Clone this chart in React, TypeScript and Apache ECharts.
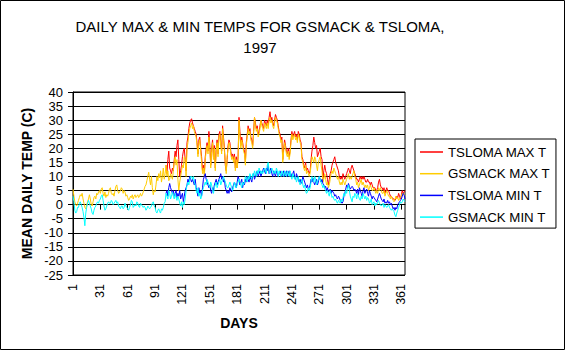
import React, { useEffect, useRef } from "react";
import * as echarts from "echarts";

const FONT = '"Liberation Sans", Arial, sans-serif';

const CHART_TITLE_LINE1 = "DAILY MAX & MIN TEMPS FOR GSMACK & TSLOMA,";
const CHART_TITLE_LINE2 = "1997";
const Y_TITLE = "MEAN DAILY TEMP (C)";
const X_TITLE = "DAYS";

const SERIES_NAMES = ["TSLOMA MAX T", "GSMACK MAX T", "TSLOMA MIN T", "GSMACK MIN T"];
const SERIES_COLORS = ["#ff0000", "#ffcc00", "#0000ff", "#00ffff"];

const DAY_COUNT = 365;
const DAYS = Array.from({ length: DAY_COUNT }, (_, i) => String(i + 1));

// TSLOMA records begin on this day
const TSLOMA_START_DAY = 103;

const Y_MIN = -25;
const Y_MAX = 40;
const Y_STEP = 5;

// GSMACK daily maximum, days 1..365
const GSMACK_MAX = [
  5.5, 3, 1, 0, -0.5, 0.5, 1.5, 2.5, 3.5, 3,
  4, 2, 0.5, -1, -1.5, 0, 1, 2, 3.5, 2,
  0, -0.5, 1, 2.5, 3, 2, 4, 3.5, 4.5, 5,
  4, 5.5, 6, 4, 3, 4.5, 2.5, 3.5, 3, 4,
  5.5, 6, 4, 3.5, 4, 3, 5, 6.5, 7, 5,
  4, 4.5, 5, 6, 5.5, 4, 5, 4.5, 3, 3.5,
  2.5, 1.5, 2, 3, 2.5, 3.5, 2, 3, 3.5, 2.5,
  3, 3.5, 2.5, 3, 4, 3, 3.5, 4.5, 5.5, 6.5,
  7, 8.5, 10, 11.5, 9, 7, 10, 6, 3.5, 5,
  4.5, 7, 10, 8.5, 11, 9.5, 12, 8, 10, 13,
  9, 11, 14, 10, 12, 8.5, 9, 11, 10, 9,
  12, 15, 17, 14, 16, 9, 5, 8, 10, 12,
  14, 13, 17, 16, 10, 20, 22, 25, 27, 28,
  29, 27, 28, 26, 25, 24, 21, 17, 22, 23,
  19, 15, 11, 13, 10, 16, 19, 21, 18, 24,
  20, 13, 19, 22, 16, 20, 12, 19, 22, 17,
  24, 25, 21, 18, 27, 23, 19, 15, 11, 17,
  20, 22, 21, 18, 16, 17, 15, 17, 12, 16,
  13, 16, 30, 24, 20, 23, 21, 19, 18, 14,
  21, 24, 27, 25, 26, 23, 22, 20, 25, 31,
  28, 26, 27, 24, 25, 27, 30, 28, 27, 26,
  29, 28, 27, 29, 27, 30, 31, 29, 30, 28,
  27, 29, 31, 30, 29, 27, 25, 24, 22, 23,
  15, 19, 22, 20, 18, 17, 19, 16, 18, 22,
  25, 23, 24, 25, 23, 24, 22, 25, 24, 22,
  21, 16, 15, 13, 12, 14, 11, 12, 11, 10,
  11, 14, 17, 16, 15, 17, 16, 14, 12, 15,
  16, 17, 14, 12, 8, 9, 11, 9, 7, 8,
  6, 7, 9, 11, 12, 11, 13, 12, 11, 10,
  9, 10, 8, 7, 8, 7, 9, 8, 7, 8,
  9, 10, 11, 9, 10, 9, 10, 11, 12, 10,
  9, 7, 8, 6, 7, 8, 9, 7, 8, 7,
  6, 7, 6, 7, 5, 6, 7, 6, 5, 5,
  6, 5, 4, 5, 4, 6, 5, 6, 5, 4,
  4, 5, 3, 4, 5, 4, 3, 3, 2, 3,
  2, 1.5, 1, 2, 3, 2, 2.5, 1.5, 2, 2.5,
  3, 4, 3.5, 4, 3,
];

// GSMACK daily minimum, days 1..365
const GSMACK_MIN = [
  3, 1, -2, -3, -2.5, -1, -1, 0.5, 1, 0,
  -1, -2.5, -4.5, -7.5, -3, -1, 0.5, 1.5, 0.5, -0.5,
  -1.5, -3, -3.5, -2, -1, -0.5, 0.5, 1, 0.5, 1.5,
  2, 3, 3.5, 1.5, -0.5, -2, -1.5, -0.5, 0.5, 1,
  0.5, 0.5, 1.5, 1, 0, 0.5, 1, 1.5, 0.5, 1,
  -0.5, -1, -1.5, -0.5, -0.5, -1.5, -1, 0.5, -0.5, -1,
  -1.5, -2, -1, 0, 1.5, 1, -1, -0.5, 0, -0.5,
  1, 0.5, -0.5, -1, 0.5, 0, -0.5, -1, -0.5, -1,
  -2, -1.5, -0.5, -1, -1.5, -1, -0.5, 0.5, 1, -0.5,
  -1, -2.5, -3, -2, -1.5, -2.5, -3, -1.5, -2, -1,
  0.5, 1, 4, 3, 2, 5, 4, 2, 3, 4.5,
  3, 2, 4, 2.5, 1.5, 3, 2, 0.5, -0.5, 1,
  -1, 1, 0, 2, 5, 7, 8, 7, 9, 10,
  10, 9, 10, 8, 7, 5, 4, 6, 3, 4,
  2, 3, 5, 6, 7, 8, 7, 9, 8, 7,
  6, 8, 7, 5, 4, 6, 7, 8, 6, 7,
  8, 9, 7, 8, 9, 10, 9, 8, 7, 6,
  6, 7, 8, 7, 6, 5, 6, 8, 7, 6,
  7, 8, 9, 8, 7, 6, 8, 7, 8, 10,
  9, 8, 10, 9, 11, 10, 9, 11, 10, 12,
  11, 10, 12, 11, 13, 12, 11, 12, 11, 12,
  13, 12, 11, 14, 15, 12, 11, 12, 13, 12,
  11, 12, 11, 13, 12, 10, 12, 11, 10, 12,
  11, 10, 12, 11, 10, 12, 11, 10, 12, 10,
  9, 11, 10, 9, 10, 8, 9, 10, 8, 7,
  8, 9, 7, 6, 7, 5, 4, 4.5, 6, 5,
  6, 8, 10, 9, 8, 10, 9, 7, 8, 9,
  10, 9, 8, 7, 6, 7, 5.5, 5, 4, 5,
  4, 3, 5, 4, 2.5, 3, 2, 1.5, 2, 1,
  0.5, 1.5, 1, 0.5, 2, 1, 2.5, 4, 3, 5,
  4, 6, 7, 5, 3, 2, 1, 3, 2.5, 4,
  3.5, 2, 4, 3, 2, 1.5, 3, 2, 4, 3,
  2, 3, 1.5, 2.5, 2, 0.5, 1, 2, 0, 0.5,
  1, -0.5, 0.5, 0, 1, 1.5, 0.5, 0, -0.5, 0,
  0.5, -1, 0, -0.5, -1, -0.5, 0, -1, -1.5, -2,
  -1.5, -2, -2.5, -3.7, -4.3, -3, -2, -1, 0, 1,
  0.5, 1, 2, 1.5, 1,
];

// TSLOMA daily maximum, days 103..365
const TSLOMA_MAX = [
  14, 11, 16, 19, 13, 12, 11, 13,
  12, 16, 19, 17, 21, 23, 16, 10, 12, 14,
  17, 19, 20, 16, 12, 22, 24, 27, 29, 30,
  30.5, 29, 28, 27, 26, 25, 22, 18, 23, 24,
  20, 17, 12, 14, 11, 17, 20, 22, 19, 26,
  21, 14, 20, 23, 17, 21, 13, 20, 23, 18,
  25, 26, 22, 19, 28, 24, 20, 14, 12, 16,
  21, 23, 22, 19, 17, 18, 16, 18, 13, 17,
  13, 17, 31, 26, 21, 24, 22, 20, 19, 15,
  22, 25, 28, 26, 27, 24, 23, 21, 26, 31,
  29, 27, 28, 25, 26, 28, 30, 29, 28, 27,
  30, 29, 28, 30, 28, 31, 33, 30, 31, 29,
  28, 30, 32, 31, 30, 28, 26, 25, 23, 24,
  16, 20, 23, 21, 19, 18, 20, 17, 19, 23,
  26, 24, 25, 26, 24, 25, 23, 26, 25, 23,
  22, 17, 16, 14, 13, 15, 12, 13, 12, 11,
  12, 16, 19, 21, 24, 22, 20, 21, 17, 18,
  19, 20, 17, 16, 9, 12, 14, 12, 11, 9,
  7, 9, 11, 12, 14, 15, 16, 17, 15, 14,
  13, 12, 10, 9, 10, 9, 11, 10, 9, 10,
  11, 12, 13, 12, 11, 13, 14, 13, 12, 11,
  10, 9, 9, 8, 9, 10, 9, 10, 9, 10,
  9, 8, 8, 9, 8, 8, 7, 8, 7, 6,
  6, 6, 5, 5, 6, 8, 9, 7, 6, 6,
  5, 6, 4, 5, 6, 5, 5, 4, 3, 3,
  2.5, 2, 2, 1.5, 2, 3, 2.5, 4, 3, 2,
  3.5, 5, 4, 4.5, 5,
];

// TSLOMA daily minimum, days 103..365
const TSLOMA_MIN = [
  4, 5, 3, 6, 7.5, 6, 5, 4,
  5, 3, 4, 5, 2.5, 4, 3, 5, 2, 3,
  4, 1, 3, 5, 6, 7, 9, 8, 10, 9,
  8, 9, 8, 7, 9, 6, 5, 3, 6, 4,
  5, 3, 6, 9, 10, 11, 9, 8, 7, 6,
  7, 5, 4, 6, 5, 7, 8, 9, 7, 8,
  9, 10, 11, 9, 10, 8, 9, 6, 5, 4,
  5, 4, 6, 5, 4.5, 6, 7, 8, 7, 6,
  8, 10, 9, 7, 8, 9, 6, 8, 7, 9,
  8, 10, 9, 8, 10, 9, 8, 10, 11, 9,
  10, 11, 12, 10, 11, 12, 10, 11, 12, 13,
  12, 11, 13, 12, 14, 11, 12, 13, 11, 10,
  12, 11, 10, 12, 11, 10, 11, 12, 11, 10,
  11, 12, 10, 11, 12, 10, 11, 12, 10, 11,
  10, 11, 12, 10, 9, 11, 10, 9, 8, 9,
  7.5, 8, 10, 9, 8, 7, 6, 7, 5.5, 6,
  7, 9, 8, 9.5, 8, 7, 8, 9, 7, 8,
  10, 9, 8, 9, 7.5, 7, 6, 6.5, 5, 6,
  4.5, 5, 5.5, 4, 5, 4.5, 4, 3, 3.5, 2.5,
  2, 3, 2.5, 1.5, 1, 0.5, 1, 3, 4, 5.5,
  7, 6, 7.5, 6.5, 5.5, 6, 6.5, 6, 5, 5.5,
  5, 4, 5.5, 3.5, 6, 5, 4, 3, 5, 6,
  4, 5, 5.5, 4, 3, 5, 4, 3, 2, 3,
  2.5, 2, 1.5, 1, 2, 3, 4, 3, 2, 1.5,
  1, 2, 0.5, 1, 0.5, 1.5, 0.5, 1, 0, 0.5,
  -0.5, -1.5, -1, -2, -1, -1.5, 0, 0.5, 1, 1.5,
  2, 3, 4, 3.5, 2,
];

function fullYear(values: number[], startDay: number): (number | null)[] {
  const out: (number | null)[] = [];
  for (let d = 1; d <= DAY_COUNT; d++) {
    const idx = d - startDay;
    out.push(idx >= 0 && idx < values.length ? values[idx] : null);
  }
  return out;
}

export default function App() {
  const ref = useRef<HTMLDivElement>(null);

  useEffect(() => {
    if (!ref.current) return;
    const chart = echarts.init(ref.current, null, { renderer: "svg" });

    const seriesData = [
      fullYear(TSLOMA_MAX, TSLOMA_START_DAY),
      fullYear(GSMACK_MAX, 1),
      fullYear(TSLOMA_MIN, TSLOMA_START_DAY),
      fullYear(GSMACK_MIN, 1),
    ];

    chart.setOption({
      animation: false,
      backgroundColor: "#ffffff",
      textStyle: { fontFamily: FONT, color: "#000" },
      grid: {
        left: 73,
        top: 92,
        width: 332,
        height: 183,
        show: true,
        backgroundColor: "#ffffff",
        borderColor: "#000",
        borderWidth: 1,
      },
      xAxis: {
        type: "category",
        data: DAYS,
        boundaryGap: false,
        axisLine: { show: true, lineStyle: { color: "#000", width: 1 } },
        axisTick: { show: true, interval: 29, length: 5, inside: false, lineStyle: { color: "#000" } },
        axisLabel: {
          interval: 29,
          rotate: 90,
          margin: 9,
          color: "#000",
          fontSize: 12.5,
          fontFamily: FONT,
        },
        splitLine: { show: false },
      },
      yAxis: {
        type: "value",
        min: Y_MIN,
        max: Y_MAX,
        interval: Y_STEP,
        axisLine: { show: true, lineStyle: { color: "#000", width: 1 } },
        axisTick: { show: true, length: 5, lineStyle: { color: "#000" } },
        axisLabel: { color: "#000", fontSize: 13, margin: 10, fontFamily: FONT },
        splitLine: { show: true, lineStyle: { color: "#000", width: 1 } },
      },
      legend: {
        orient: "vertical",
        left: 415,
        top: 139,
        data: SERIES_NAMES,
        icon: "rect",
        backgroundColor: "#ffffff",
        borderColor: "#000",
        borderWidth: 1,
        borderRadius: 0,
        padding: [5, 6, 3, 5],
        itemWidth: 23,
        itemHeight: 1.5,
        itemGap: 5.7,
        textStyle: { fontSize: 13.3, color: "#000", fontFamily: FONT, lineHeight: 16 },
      },
      series: SERIES_NAMES.map((name, i) => ({
        name,
        type: "line",
        data: seriesData[i],
        symbol: "none",
        showSymbol: false,
        connectNulls: false,
        color: SERIES_COLORS[i],
        itemStyle: { color: SERIES_COLORS[i] },
        lineStyle: { color: SERIES_COLORS[i], width: 1 },
        emphasis: { disabled: true },
      })),
      graphic: [
        {
          type: "rect",
          silent: true,
          shape: { x: 0.5, y: 0.5, width: 564, height: 349 },
          style: { fill: "none", stroke: "#000", lineWidth: 1 },
        },
        {
          type: "text",
          x: 260,
          y: 26,
          style: {
            text: CHART_TITLE_LINE1,
            fontSize: 15,
            fontFamily: FONT,
            fill: "#000",
            align: "center",
            verticalAlign: "middle",
          },
        },
        {
          type: "text",
          x: 260,
          y: 47,
          style: {
            text: CHART_TITLE_LINE2,
            fontSize: 15,
            fontFamily: FONT,
            fill: "#000",
            align: "center",
            verticalAlign: "middle",
          },
        },
        {
          type: "text",
          x: 27,
          y: 183.5,
          rotation: Math.PI / 2,
          style: {
            text: Y_TITLE,
            fontSize: 14,
            fontWeight: "bold",
            fontFamily: FONT,
            fill: "#000",
            align: "center",
            verticalAlign: "middle",
          },
        },
        {
          type: "text",
          x: 239,
          y: 323,
          style: {
            text: X_TITLE,
            fontSize: 14,
            fontWeight: "bold",
            fontFamily: FONT,
            fill: "#000",
            align: "center",
            verticalAlign: "middle",
          },
        },
      ],
    });

    return () => chart.dispose();
  }, []);

  return (
    <div
      ref={ref}
      style={{ position: "fixed", left: 0, top: 0, width: 566, height: 352, background: "#fff" }}
    />
  );
}
